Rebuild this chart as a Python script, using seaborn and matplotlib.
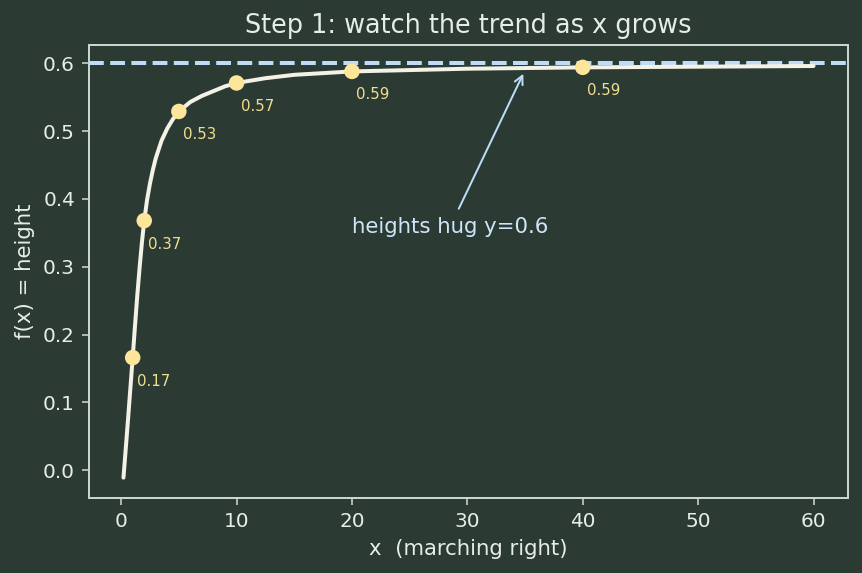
import pandas as pd
import seaborn as sns
import matplotlib.pyplot as plt

# Curve values
curve_x = [0.2, 0.4, 0.6, 0.8, 1.0, 1.2, 1.4, 1.6, 1.8, 2.0, 2.25, 2.5, 2.75, 3.0,
           3.5, 4.0, 4.5, 5.0, 6.0, 7.0, 8.0, 9.0, 10, 12.5, 15, 20, 25, 30, 40, 50, 60]
curve_y = [-0.011, 0.032, 0.076, 0.121, 0.166, 0.213, 0.258, 0.299, 0.336, 0.368, 0.399,
           0.423, 0.443, 0.460, 0.486, 0.504, 0.518, 0.529, 0.543, 0.552, 0.559, 0.566,
           0.571, 0.578, 0.583, 0.588, 0.590, 0.592, 0.594, 0.595, 0.596]

# Highlighted sample points
pts_x = [1, 2, 5, 10, 20, 40]
pts_y = [0.166, 0.368, 0.529, 0.571, 0.588, 0.594]

asymptote = 0.6

bg = "#2b3b34"
fg = "#e6ede6"

sns.set_theme(style="ticks", rc={
    "figure.facecolor": bg,
    "axes.facecolor": bg,
    "axes.edgecolor": "#c9d6cd",
    "axes.labelcolor": fg,
    "xtick.color": "#c9d6cd",
    "ytick.color": "#c9d6cd",
    "text.color": fg,
    "axes.linewidth": 1.0,
    "xtick.major.size": 3.5,
    "ytick.major.size": 3.5,
    "xtick.major.width": 0.8,
    "ytick.major.width": 0.8,
})
plt.rcParams["font.family"] = ["DejaVu Sans"]

df_curve = pd.DataFrame({"x": curve_x, "y": curve_y})
df_pts = pd.DataFrame({"x": pts_x, "y": pts_y})

fig, ax = plt.subplots(figsize=(862 / 144, 573 / 144), dpi=144)

ax.axhline(asymptote, color="#bcdcf8", ls="--", lw=2, zorder=2)
sns.lineplot(data=df_curve, x="x", y="y", color="#f4f1e6", lw=2, ax=ax, zorder=3)
sns.scatterplot(data=df_pts, x="x", y="y", color="#fde59a", s=60, edgecolor="none",
                ax=ax, zorder=4)

# value labels under each point
for x, y in zip(pts_x, pts_y):
    ax.annotate(f"{y:.2f}", (x, y), xytext=(2, -8), textcoords="offset points",
                ha="left", va="top", fontsize=7.5, color="#f1df8e")

ax.annotate("heights hug y=0.6", xy=(35, 0.59), xytext=(20, 0.35),
            fontsize=10.6, color="#cfe6f8",
            arrowprops=dict(arrowstyle="->", color="#bcdcf8", lw=1))

ax.set_ylim(-0.041, 0.627)
ax.tick_params(labelsize=10, labelcolor=fg)
ax.set_title("Step 1: watch the trend as x grows", fontsize=12.75, color=fg)
ax.set_xlabel("x  (marching right)", fontsize=10.6)
ax.set_ylabel("f(x) = height", fontsize=10.6)

plt.subplots_adjust(left=0.1032, right=0.9838, top=0.9215, bottom=0.1309)
plt.savefig("out.png", dpi=144, facecolor=bg)
